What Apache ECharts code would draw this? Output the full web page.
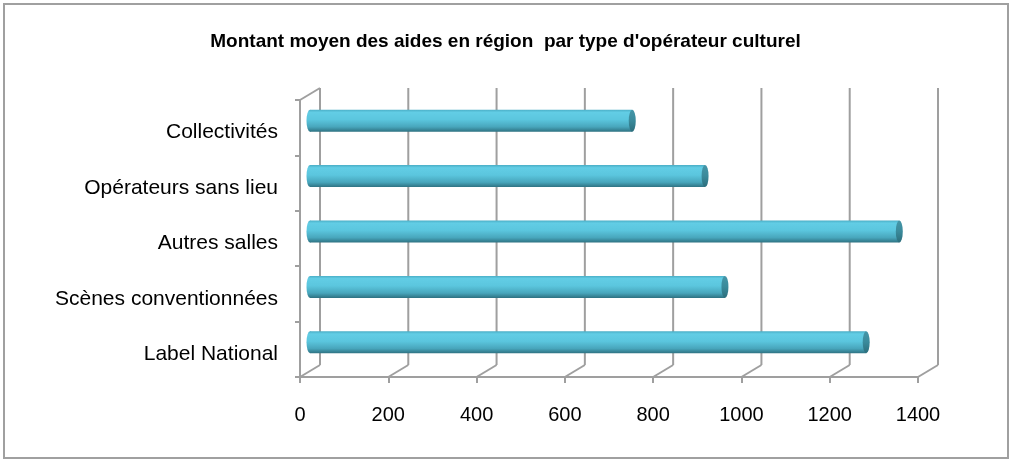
<!DOCTYPE html>
<html>
<head>
<meta charset="utf-8">
<script src="https://cdn.jsdelivr.net/npm/echarts@6/dist/echarts.min.js"></script>
<style>
html,body{margin:0;padding:0;background:#fff;}
#chart{width:1011px;height:461px;}
</style>
</head>
<body>
<div id="chart"></div>
<script>
// ---- data ----
const titleText = "Montant moyen des aides en région  par type d'opérateur culturel";
const categories = ["Label National", "Scènes conventionnées", "Autres salles", "Opérateurs sans lieu", "Collectivités"];
const values = [1260, 940, 1335, 895, 730];
const xTicks = [0, 200, 400, 600, 800, 1000, 1200, 1400];

// ---- styles ----
const FONT = "'Liberation Sans', Arial, sans-serif";
const GRAY = '#9f9f9f';
const DX = 10, DY = -7;        // bar depth offset (middle of the 3D box)
const BX = 20, BY = -12;       // back wall offset

const chart = echarts.init(document.getElementById('chart'), null, {renderer: 'canvas'});

const bodyGrad = new echarts.graphic.LinearGradient(0, 0, 0, 1, [
  {offset: 0, color: '#4aaec6'},
  {offset: 0.12, color: '#62cde5'},
  {offset: 0.45, color: '#5bc6de'},
  {offset: 0.78, color: '#48a6bc'},
  {offset: 1, color: '#2e7282'}
]);
const capGrad = new echarts.graphic.LinearGradient(0, 0, 0, 1, [
  {offset: 0, color: '#4596a8'},
  {offset: 0.5, color: '#3a8a9b'},
  {offset: 1, color: '#2c6e7c'}
]);

const option = {
  animation: false,
  backgroundColor: '#fff',
  title: {
    text: titleText,
    left: 'center',
    top: 32,
    padding: [0, 0, 0, 5],
    textStyle: {fontFamily: FONT, fontSize: 19, fontWeight: 'bold', color: '#000'}
  },
  graphic: [{
    type: 'rect',
    shape: {x: 4, y: 4, width: 1004, height: 454},
    style: {fill: 'none', stroke: '#a0a0a0', lineWidth: 2},
    silent: true
  }],
  grid: {left: 300, right: 93, top: 100, bottom: 84, containLabel: false},
  xAxis: {
    type: 'value',
    min: 0, max: 1400, interval: 200,
    axisLine: {show: true, lineStyle: {color: GRAY, width: 2}},
    axisTick: {show: true, length: 6, lineStyle: {color: GRAY, width: 2}},
    splitLine: {show: false},
    axisLabel: {
      margin: 28,
      fontFamily: FONT, fontSize: 20, color: '#000',
      formatter: function (v) { return xTicks.indexOf(v) >= 0 ? String(v) : ''; }
    }
  },
  yAxis: {
    type: 'category',
    data: categories,
    axisLine: {show: true, lineStyle: {color: GRAY, width: 2}},
    axisTick: {show: true, length: 5, lineStyle: {color: GRAY, width: 2}},
    axisLabel: {
      margin: 22,
      formatter: function (v) { return '{a|' + v + '}'; },
      rich: {a: {fontFamily: FONT, fontSize: 21, color: '#000', padding: [10, 0, 0, 0]}}
    }
  },
  series: [
    {
      type: 'custom',
      z: 1,
      silent: true,
      data: xTicks.map(v => [v, 0]),
      encode: {x: 0, y: 1},
      clip: false,
      renderItem: function (params, api) {
        const v = api.value(0);
        const cs = params.coordSys;
        const xf = api.coord([v, 0])[0];
        const bottom = cs.y + cs.height;
        const top = cs.y;
        const children = [
          {type: 'line', shape: {x1: xf + BX, y1: top + BY, x2: xf + BX, y2: bottom + BY},
            style: {stroke: GRAY, lineWidth: 2}},
          {type: 'line', shape: {x1: xf + BX, y1: bottom + BY, x2: xf, y2: bottom},
            style: {stroke: GRAY, lineWidth: 2}}
        ];
        if (params.dataIndex === 0) {
          children.push({type: 'line', shape: {x1: xf, y1: top, x2: xf + BX, y2: top + BY},
            style: {stroke: GRAY, lineWidth: 2}});
        }
        return {type: 'group', children: children};
      }
    },
    {
      type: 'custom',
      z: 3,
      data: values.map((v, i) => [v, i]),
      encode: {x: 0, y: 1},
      clip: false,
      renderItem: function (params, api) {
        const v = api.value(0);
        const c = api.value(1);
        const p0 = api.coord([0, c]);
        const p1 = api.coord([v, c]);
        const x0 = p0[0] + DX, x1 = p1[0] + DX, cy = p0[1] + DY;
        const h = 11, rx = 3.5;
        return {
          type: 'group',
          children: [
            {type: 'circle', x: x0, y: cy, scaleX: rx / h, shape: {cx: 0, cy: 0, r: h}, style: {fill: bodyGrad}},
            {type: 'rect', shape: {x: x0, y: cy - h, width: x1 - x0, height: 2 * h}, style: {fill: bodyGrad}},
            {type: 'circle', x: x1, y: cy, scaleX: rx / h, shape: {cx: 0, cy: 0, r: h}, style: {fill: capGrad}}
          ]
        };
      }
    }
  ]
};
chart.setOption(option);
</script>
</body>
</html>
